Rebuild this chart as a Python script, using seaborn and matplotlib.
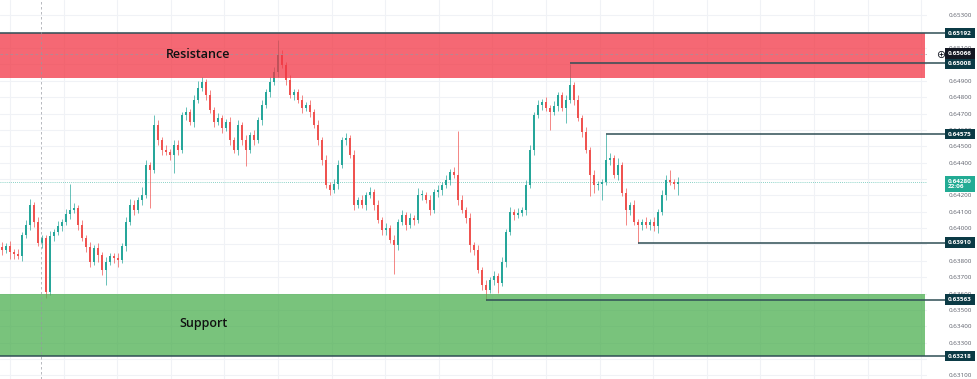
import numpy as np
import pandas as pd
import matplotlib.pyplot as plt
import matplotlib.transforms as mtransforms
import seaborn as sns

# --- data --------------------------------------------------------------
first_open = 0.63885
closes = [
    0.63867, 0.63891, 0.63854, 0.63842, 0.63830, 0.63958, 0.64019, 0.64141, 0.64038, 0.63909,
    0.63940, 0.63610, 0.63952, 0.63977, 0.64013, 0.64038, 0.64086, 0.64111, 0.64123, 0.64019,
    0.63940, 0.63885, 0.63793, 0.63879, 0.63836, 0.63744, 0.63793, 0.63830, 0.63818, 0.63805,
    0.63891, 0.64038, 0.64141, 0.64111, 0.64172, 0.64203, 0.64386, 0.64355, 0.64630, 0.64539,
    0.64478, 0.64465, 0.64447, 0.64508, 0.64478, 0.64691, 0.64710, 0.64649, 0.64783, 0.64856,
    0.64893, 0.64814, 0.64722, 0.64649, 0.64673, 0.64612, 0.64649, 0.64539, 0.64478, 0.64630,
    0.64539, 0.64478, 0.64569, 0.64539, 0.64661, 0.64752, 0.64832, 0.64893, 0.64954, 0.65058,
    0.64997, 0.64905, 0.64814, 0.64832, 0.64783, 0.64734, 0.64752, 0.64710, 0.64630, 0.64539,
    0.64416, 0.64264, 0.64233, 0.64270, 0.64386, 0.64539, 0.64551, 0.64447, 0.64141, 0.64172,
    0.64141, 0.64203, 0.64221, 0.64141, 0.64050, 0.63989, 0.64001, 0.63928, 0.63897, 0.64038,
    0.64080, 0.64019, 0.64062, 0.64050, 0.64203, 0.64203, 0.64172, 0.64111, 0.64221, 0.64233,
    0.64264, 0.64294, 0.64343, 0.64325, 0.64172, 0.64111, 0.64062, 0.63897, 0.63867, 0.63744,
    0.63653, 0.63622, 0.63683, 0.63708, 0.63665, 0.63793, 0.63977, 0.64099, 0.64080, 0.64093,
    0.64111, 0.64264, 0.64478, 0.64691, 0.64752, 0.64771, 0.64734, 0.64710, 0.64746, 0.64814,
    0.64734, 0.64783, 0.64875, 0.64783, 0.64673, 0.64588, 0.64478, 0.64325, 0.64264, 0.64270,
    0.64282, 0.64416, 0.64429, 0.64325, 0.64386, 0.64215, 0.64111, 0.64141, 0.64038, 0.64019,
    0.64038, 0.64019, 0.64038, 0.64013, 0.64099, 0.64203, 0.64294, 0.64282, 0.64270, 0.64280,
]
# wick lengths in pips (0.0001)
upper_wick_pips = [
    3, 2, 3, 2, 3, 2, 3, 4, 2, 3,
    2, 2, 3, 2, 3, 2, 3, 16, 3, 2,
    3, 2, 3, 2, 3, 2, 3, 2, 2, 3,
    2, 3, 4, 3, 2, 5, 3, 2, 6, 3,
    2, 3, 2, 3, 3, 2, 3, 2, 3, 4,
    3, 2, 3, 2, 3, 2, 2, 3, 2, 3,
    2, 3, 2, 3, 2, 3, 2, 3, 3, 9,
    3, 2, 3, 2, 2, 3, 2, 3, 2, 3,
    2, 3, 2, 3, 3, 2, 3, 2, 3, 2,
    3, 2, 3, 2, 3, 2, 3, 2, 3, 2,
    3, 2, 3, 2, 4, 3, 2, 3, 2, 3,
    2, 3, 2, 3, 27, 3, 2, 3, 2, 3,
    2, 3, 2, 3, 2, 3, 2, 3, 2, 3,
    2, 3, 3, 2, 3, 2, 3, 2, 3, 2,
    2, 3, 13, 2, 3, 2, 3, 2, 3, 2,
    2, 16, 3, 2, 4, 2, 3, 2, 3, 2,
    2, 3, 2, 3, 2, 3, 3, 6, 2, 3,
]
lower_wick_pips = [
    3, 2, 4, 3, 2, 3, 2, 3, 3, 2,
    3, 4, 2, 3, 2, 3, 2, 3, 2, 3,
    2, 3, 3, 2, 4, 3, 9, 2, 3, 4,
    2, 3, 2, 3, 2, 3, 2, 23, 2, 3,
    3, 2, 3, 11, 3, 2, 3, 2, 3, 2,
    2, 3, 2, 3, 2, 3, 2, 3, 2, 3,
    3, 10, 2, 3, 2, 3, 2, 3, 2, 3,
    2, 3, 2, 3, 2, 3, 2, 3, 2, 3,
    3, 2, 3, 2, 3, 2, 3, 2, 3, 2,
    2, 3, 2, 3, 2, 3, 3, 2, 18, 3,
    2, 3, 2, 3, 2, 3, 2, 3, 2, 3,
    3, 2, 3, 2, 3, 2, 3, 4, 3, 2,
    3, 6, 2, 3, 6, 2, 3, 2, 3, 2,
    2, 3, 2, 3, 2, 3, 2, 11, 2, 3,
    2, 9, 2, 3, 2, 3, 2, 13, 5, 3,
    10, 2, 3, 2, 3, 2, 9, 3, 2, 11,
    3, 2, 3, 3, 4, 2, 3, 2, 3, 7,
]

resistance_zone = (0.64917, 0.65192)
support_zone = (0.63218, 0.63600)
edge_levels = [0.65192, 0.63218]
ray_levels = [0.65008, 0.64575, 0.63910, 0.63563]
ray_anchor = [142, 151, 159, 121]          # candle where each ray starts
cursor_price = 0.65066
last_price = 0.64280
countdown = '22:06'
axis_ticks = np.round(np.arange(0.631, 0.6535, 0.001), 3)
hidden_ticks = [0.652, 0.643, 0.639]       # covered by the price tags

# --- frame ---------------------------------------------------------------
df = pd.DataFrame({'close': closes, 'uw': upper_wick_pips, 'lw': lower_wick_pips})
df['open'] = [first_open] + closes[:-1]
df['top'] = df[['open', 'close']].max(axis=1)
df['bot'] = df[['open', 'close']].min(axis=1)
df['high'] = df['top'] + df['uw'] * 0.0001
df['low'] = df['bot'] - df['lw'] * 0.0001
df['body'] = (df['top'] - df['bot']).clip(lower=0.00003)
df['color'] = np.where(df['close'] >= df['open'], '#26a69a', '#ef5350')
idx = np.arange(len(df))

sns.set_style('white')
plt.rcParams['font.family'] = ['Open Sans', 'DejaVu Sans']

fig = plt.figure(figsize=(9.77, 3.79), dpi=100)
ax = fig.add_axes([0, 0, 927 / 977, 1])
ax.set_xlim(-0.5, 231.25)
ax.set_ylim(0.63078, 0.65394)
trans = mtransforms.blended_transform_factory(ax.transAxes, ax.transData)

# grid
ax.set_xticks(np.arange(2, 231, 13.4))
ax.set_yticks(axis_ticks)
ax.set_yticklabels(['' if any(abs(t - h) < 1e-6 for h in hidden_ticks) else f'{t:.5f}'
                    for t in axis_ticks])
ax.grid(True, color='#f0f2f6', lw=0.8, zorder=0)
ax.tick_params(axis='x', length=0, labelbottom=False)
ax.tick_params(axis='y', length=0, pad=15.5, labelsize=4.5, labelcolor='#5d606b',
               left=False, labelleft=False, right=True, labelright=True)
sns.despine(ax=ax, left=True, bottom=True, right=True, top=True)

# candles
ax.vlines(idx, df['low'], df['high'], colors=df['color'], lw=0.7, alpha=0.7, zorder=2)
ax.bar(idx, df['body'], bottom=df['bot'], width=0.7, color=df['color'], lw=0, zorder=3)

# last price and crosshair
ax.axhline(last_price, color='#22ab94', ls=(0, (1, 1.5)), lw=0.6, alpha=0.7, zorder=1)
ax.axhline(cursor_price, color='#9598a1', ls=(0, (3, 3)), lw=0.6, alpha=0.8, zorder=6)
ax.axvline(9.75, color='#9598a1', ls=(0, (3, 3)), lw=0.6, alpha=0.8, zorder=6)

# zones
ax.axhspan(*resistance_zone, xmax=925 / 927, color='#f23645', alpha=0.75, lw=0, zorder=4)
ax.axhspan(*support_zone, xmax=925 / 927, color='#4caf50', alpha=0.75, lw=0, zorder=4)
ax.text(198 / 927, 1 - 55 / 379, 'Resistance', transform=ax.transAxes, ha='center',
        va='center', fontsize=9, fontweight='semibold', color='#111111', zorder=7)
ax.text(203 / 927, 1 - 324 / 379, 'Support', transform=ax.transAxes, ha='center',
        va='center', fontsize=9, fontweight='semibold', color='#111111', zorder=7)

# level lines
line_col = '#2f4e55'
ax.hlines(edge_levels, -0.5, 236.25, color=line_col, lw=1.1, zorder=5, clip_on=False)
ax.hlines(ray_levels, ray_anchor, 236.25, color=line_col, lw=1.1, zorder=5, clip_on=False)

# price tags
tag_x = 948 / 927
tag_fs = 4.6
for v in edge_levels + ray_levels:
    ax.text(tag_x, v, f'{v:.5f}', transform=trans, fontsize=tag_fs, color='white',
            fontweight='bold', va='center', ha='left', zorder=10, clip_on=False,
            bbox=dict(boxstyle='square,pad=0.45', fc='#0b3a45', ec='none'))
ax.text(tag_x, cursor_price, f'{cursor_price:.5f}', transform=trans, fontsize=tag_fs,
        color='white', fontweight='bold', va='center', ha='left', zorder=10, clip_on=False,
        bbox=dict(boxstyle='square,pad=0.45', fc='#131722', ec='none'))
ax.plot([941 / 927], [cursor_price], transform=trans, marker='o', ms=4.5, mfc='white',
        mec='#131722', mew=0.6, clip_on=False, zorder=10)
ax.plot([941 / 927], [cursor_price], transform=trans, marker='+', ms=3, mec='#131722',
        mew=0.6, clip_on=False, zorder=11)
ax.text(tag_x, last_price - 0.00012, f'{last_price:.5f}\n{countdown}', transform=trans,
        fontsize=tag_fs, color='white', fontweight='bold', va='center', ha='left',
        linespacing=1.1, zorder=10, clip_on=False,
        bbox=dict(boxstyle='square,pad=0.45', fc='#22ab94', ec='none'))

fig.savefig('out.png', dpi=100)
